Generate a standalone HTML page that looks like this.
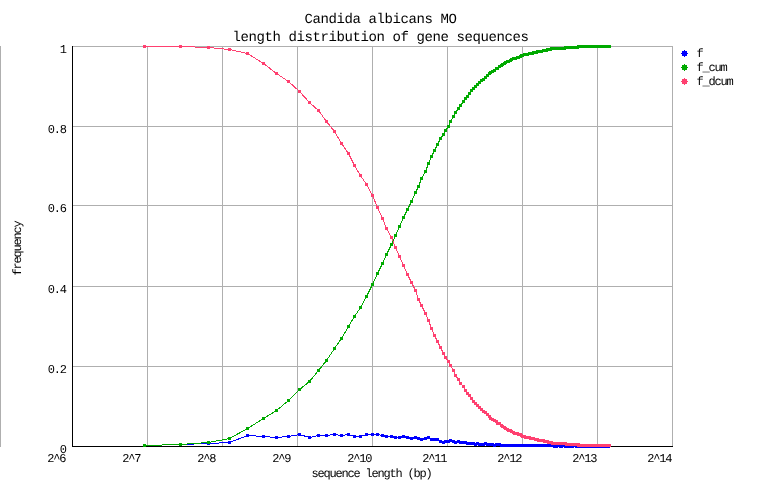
<!DOCTYPE html>
<html lang="en"><head><meta charset="utf-8"><title>Candida albicans MO - length distribution of gene sequences</title>
<style>html,body{margin:0;padding:0;background:#ffffff}body{width:762px;height:498px;overflow:hidden}svg{display:block}</style></head>
<body>
<svg width="762" height="498" viewBox="0 0 762 498">
<rect width="762" height="498" fill="#ffffff"/>
<g fill="#afafaf" shape-rendering="crispEdges"><rect x="0" y="46" width="1" height="401"/><rect x="147" y="46" width="1" height="400"/><rect x="222" y="46" width="1" height="400"/><rect x="297" y="46" width="1" height="400"/><rect x="372" y="46" width="1" height="400"/><rect x="447" y="46" width="1" height="400"/><rect x="522" y="46" width="1" height="400"/><rect x="597" y="46" width="1" height="400"/><rect x="672" y="46" width="1" height="400"/><rect x="72" y="46" width="601" height="1"/><rect x="72" y="126" width="601" height="1"/><rect x="72" y="205" width="601" height="1"/><rect x="72" y="286" width="601" height="1"/><rect x="72" y="366" width="601" height="1"/></g>
<g fill="#000000" shape-rendering="crispEdges"><rect x="72" y="46" width="1" height="401"/><rect x="72" y="446" width="601" height="1"/></g>
<g shape-rendering="crispEdges"><polyline fill="none" stroke="#0000ff" stroke-width="1" points="144.5,445.5 180.5,444.5 208.5,443.5 229.5,442.5 247.5,435.5 263.5,436.5 276.5,437.5 288.5,436.5 299.5,434.5 309.5,437.5 318.5,435.5 326.5,435.5 334.5,434.5 341.5,435.5 348.5,434.5 354.5,436.5 360.5,436.5 366.5,434.5 372.5,434.5 377.5,434.5 382.5,435.5 386.5,436.5 391.5,436.5 395.5,437.5 399.5,437.5 403.5,436.5 407.5,437.5 411.5,438.5 415.5,437.5 418.5,438.5 421.5,439.5 425.5,438.5 428.5,437.5 431.5,439.5 434.5,439.5 437.5,439.5 440.5,441.5 443.5,442.5 445.5,441.5 448.5,441.5 450.5,440.5 453.5,441.5 455.5,442.5 458.5,441.5 460.5,442.5 463.5,442.5 465.5,442.5 467.5,443.5 469.5,443.5 471.5,443.5 473.5,443.5 475.5,444.5 477.5,443.5 479.5,444.5 481.5,444.5 483.5,444.5 485.5,443.5 487.5,444.5 489.5,444.5 490.5,444.5 492.5,444.5 494.5,445.5 496.5,444.5 497.5,444.5 499.5,444.5 501.5,445.5 502.5,445.5 504.5,445.5 505.5,445.5 507.5,445.5 508.5,445.5 510.5,445.5 511.5,445.5 513.5,445.5 514.5,445.5 515.5,445.5 517.5,445.5 518.5,445.5 520.5,445.5 521.5,445.5 522.5,445.5 524.5,445.5 525.5,445.5 526.5,445.5 527.5,445.5 529.5,445.5 530.5,445.5 531.5,445.5 532.5,445.5 533.5,445.5 535.5,445.5 536.5,445.5 537.5,445.5 538.5,445.5 539.5,445.5 540.5,445.5 541.5,445.5 543.5,445.5 544.5,445.5 545.5,445.5 546.5,445.5 547.5,445.5 548.5,445.5 549.5,445.5 550.5,445.5 551.5,445.5 552.5,445.5 553.5,445.5 554.5,446.5 555.5,446.5 556.5,446.5 557.5,445.5 558.5,445.5 559.5,445.5 560.5,446.5 561.5,446.5 561.5,446.5 562.5,445.5 563.5,445.5 564.5,445.5 565.5,446.5 566.5,446.5 567.5,446.5 568.5,446.5 569.5,446.5 569.5,446.5 570.5,446.5 571.5,446.5 572.5,446.5 573.5,445.5 574.5,445.5 574.5,445.5 575.5,445.5 576.5,446.5 577.5,446.5 578.5,446.5 578.5,446.5 579.5,446.5 580.5,446.5 581.5,446.5 581.5,446.5 582.5,446.5 583.5,446.5 584.5,446.5 584.5,446.5 585.5,446.5 586.5,446.5 587.5,446.5 587.5,446.5 588.5,446.5 589.5,446.5 589.5,446.5 590.5,446.5 591.5,446.5 592.5,446.5 592.5,446.5 593.5,446.5 594.5,446.5 594.5,446.5 595.5,446.5 596.5,446.5 596.5,446.5 597.5,446.5 598.5,446.5 598.5,446.5 599.5,446.5 600.5,446.5 600.5,446.5 601.5,446.5 601.5,446.5 602.5,446.5 603.5,446.5 603.5,446.5 604.5,446.5 605.5,446.5 605.5,446.5 606.5,446.5 606.5,446.5 607.5,446.5 608.5,446.5 608.5,446.5"/><path fill="#0000ff" d="M143 444h3v3h-3zM179 443h3v3h-3zM207 442h3v3h-3zM228 441h3v3h-3zM246 434h3v3h-3zM262 435h3v3h-3zM275 436h3v3h-3zM287 435h3v3h-3zM298 433h3v3h-3zM308 436h3v3h-3zM317 434h3v3h-3zM325 434h3v3h-3zM333 433h3v3h-3zM340 434h3v3h-3zM347 433h3v3h-3zM353 435h3v3h-3zM359 435h3v3h-3zM365 433h3v3h-3zM371 433h3v3h-3zM376 433h3v3h-3zM381 434h3v3h-3zM385 435h3v3h-3zM390 435h3v3h-3zM394 436h3v3h-3zM398 436h3v3h-3zM402 435h3v3h-3zM406 436h3v3h-3zM410 437h3v3h-3zM414 436h3v3h-3zM417 437h3v3h-3zM420 438h3v3h-3zM424 437h3v3h-3zM427 436h3v3h-3zM430 438h3v3h-3zM433 438h3v3h-3zM436 438h3v3h-3zM439 440h3v3h-3zM442 441h3v3h-3zM444 440h3v3h-3zM447 440h3v3h-3zM449 439h3v3h-3zM452 440h3v3h-3zM454 441h3v3h-3zM457 440h3v3h-3zM459 441h3v3h-3zM462 441h3v3h-3zM464 441h3v3h-3zM466 442h3v3h-3zM468 442h3v3h-3zM470 442h3v3h-3zM472 442h3v3h-3zM474 443h3v3h-3zM476 442h3v3h-3zM478 443h3v3h-3zM480 443h3v3h-3zM482 443h3v3h-3zM484 442h3v3h-3zM486 443h3v3h-3zM488 443h3v3h-3zM489 443h3v3h-3zM491 443h3v3h-3zM493 444h3v3h-3zM495 443h3v3h-3zM496 443h3v3h-3zM498 443h3v3h-3zM500 444h3v3h-3zM501 444h3v3h-3zM503 444h3v3h-3zM504 444h3v3h-3zM506 444h3v3h-3zM507 444h3v3h-3zM509 444h3v3h-3zM510 444h3v3h-3zM512 444h3v3h-3zM513 444h3v3h-3zM514 444h3v3h-3zM516 444h3v3h-3zM517 444h3v3h-3zM519 444h3v3h-3zM520 444h3v3h-3zM521 444h3v3h-3zM523 444h3v3h-3zM524 444h3v3h-3zM525 444h3v3h-3zM526 444h3v3h-3zM528 444h3v3h-3zM529 444h3v3h-3zM530 444h3v3h-3zM531 444h3v3h-3zM532 444h3v3h-3zM534 444h3v3h-3zM535 444h3v3h-3zM536 444h3v3h-3zM537 444h3v3h-3zM538 444h3v3h-3zM539 444h3v3h-3zM540 444h3v3h-3zM542 444h3v3h-3zM543 444h3v3h-3zM544 444h3v3h-3zM545 444h3v3h-3zM546 444h3v3h-3zM547 444h3v3h-3zM548 444h3v3h-3zM549 444h3v3h-3zM550 444h3v3h-3zM551 444h3v3h-3zM552 444h3v3h-3zM553 445h3v3h-3zM554 445h3v3h-3zM555 445h3v3h-3zM556 444h3v3h-3zM557 444h3v3h-3zM558 444h3v3h-3zM559 445h3v3h-3zM560 445h3v3h-3zM561 444h3v3h-3zM562 444h3v3h-3zM563 444h3v3h-3zM564 445h3v3h-3zM565 445h3v3h-3zM566 445h3v3h-3zM567 445h3v3h-3zM568 445h3v3h-3zM569 445h3v3h-3zM570 445h3v3h-3zM571 445h3v3h-3zM572 444h3v3h-3zM573 444h3v3h-3zM574 444h3v3h-3zM575 445h3v3h-3zM576 445h3v3h-3zM577 445h3v3h-3zM578 445h3v3h-3zM579 445h3v3h-3zM580 445h3v3h-3zM581 445h3v3h-3zM582 445h3v3h-3zM583 445h3v3h-3zM584 445h3v3h-3zM585 445h3v3h-3zM586 445h3v3h-3zM587 445h3v3h-3zM588 445h3v3h-3zM589 445h3v3h-3zM590 445h3v3h-3zM591 445h3v3h-3zM592 445h3v3h-3zM593 445h3v3h-3zM594 445h3v3h-3zM595 445h3v3h-3zM596 445h3v3h-3zM597 445h3v3h-3zM598 445h3v3h-3zM599 445h3v3h-3zM600 445h3v3h-3zM601 445h3v3h-3zM602 445h3v3h-3zM603 445h3v3h-3zM604 445h3v3h-3zM605 445h3v3h-3zM606 445h3v3h-3zM607 445h3v3h-3z"/></g>
<g shape-rendering="crispEdges"><polyline fill="none" stroke="#00aa00" stroke-width="1" points="144.5,445.5 180.5,444.5 208.5,442.5 229.5,438.5 247.5,428.5 263.5,418.5 276.5,410.5 288.5,400.5 299.5,389.5 309.5,381.5 318.5,370.5 326.5,360.5 334.5,348.5 341.5,338.5 348.5,326.5 354.5,316.5 360.5,307.5 366.5,296.5 372.5,284.5 377.5,273.5 382.5,263.5 386.5,254.5 391.5,244.5 395.5,235.5 399.5,226.5 403.5,217.5 407.5,209.5 411.5,201.5 415.5,192.5 418.5,186.5 421.5,178.5 425.5,171.5 428.5,163.5 431.5,156.5 434.5,150.5 437.5,144.5 440.5,138.5 443.5,134.5 445.5,130.5 448.5,126.5 450.5,121.5 453.5,116.5 455.5,112.5 458.5,108.5 460.5,105.5 463.5,101.5 465.5,98.5 467.5,96.5 469.5,93.5 471.5,90.5 473.5,88.5 475.5,86.5 477.5,84.5 479.5,82.5 481.5,80.5 483.5,79.5 485.5,77.5 487.5,75.5 489.5,73.5 490.5,72.5 492.5,71.5 494.5,70.5 496.5,68.5 497.5,68.5 499.5,66.5 501.5,65.5 502.5,64.5 504.5,63.5 505.5,62.5 507.5,61.5 508.5,61.5 510.5,60.5 511.5,59.5 513.5,58.5 514.5,58.5 515.5,58.5 517.5,57.5 518.5,57.5 520.5,56.5 521.5,55.5 522.5,55.5 524.5,54.5 525.5,54.5 526.5,54.5 527.5,54.5 529.5,53.5 530.5,53.5 531.5,53.5 532.5,53.5 533.5,52.5 535.5,52.5 536.5,52.5 537.5,51.5 538.5,51.5 539.5,51.5 540.5,51.5 541.5,51.5 543.5,50.5 544.5,50.5 545.5,50.5 546.5,50.5 547.5,49.5 548.5,49.5 549.5,49.5 550.5,49.5 551.5,48.5 552.5,48.5 553.5,48.5 554.5,48.5 555.5,48.5 556.5,48.5 557.5,48.5 558.5,48.5 559.5,48.5 560.5,48.5 561.5,48.5 561.5,48.5 562.5,48.5 563.5,48.5 564.5,48.5 565.5,47.5 566.5,47.5 567.5,47.5 568.5,47.5 569.5,47.5 569.5,47.5 570.5,47.5 571.5,47.5 572.5,47.5 573.5,47.5 574.5,47.5 574.5,47.5 575.5,47.5 576.5,47.5 577.5,47.5 578.5,46.5 578.5,46.5 579.5,46.5 580.5,46.5 581.5,46.5 581.5,46.5 582.5,46.5 583.5,46.5 584.5,46.5 584.5,46.5 585.5,46.5 586.5,46.5 587.5,46.5 587.5,46.5 588.5,46.5 589.5,46.5 589.5,46.5 590.5,46.5 591.5,46.5 592.5,46.5 592.5,46.5 593.5,46.5 594.5,46.5 594.5,46.5 595.5,46.5 596.5,46.5 596.5,46.5 597.5,46.5 598.5,46.5 598.5,46.5 599.5,46.5 600.5,46.5 600.5,46.5 601.5,46.5 601.5,46.5 602.5,46.5 603.5,46.5 603.5,46.5 604.5,46.5 605.5,46.5 605.5,46.5 606.5,46.5 606.5,46.5 607.5,46.5 608.5,46.5 608.5,46.5 609.5,46.5"/><path fill="#00aa00" d="M143 444h3v3h-3zM179 443h3v3h-3zM207 441h3v3h-3zM228 437h3v3h-3zM246 427h3v3h-3zM262 417h3v3h-3zM275 409h3v3h-3zM287 399h3v3h-3zM298 388h3v3h-3zM308 380h3v3h-3zM317 369h3v3h-3zM325 359h3v3h-3zM333 347h3v3h-3zM340 337h3v3h-3zM347 325h3v3h-3zM353 315h3v3h-3zM359 306h3v3h-3zM365 295h3v3h-3zM371 283h3v3h-3zM376 272h3v3h-3zM381 262h3v3h-3zM385 253h3v3h-3zM390 243h3v3h-3zM394 234h3v3h-3zM398 225h3v3h-3zM402 216h3v3h-3zM406 208h3v3h-3zM410 200h3v3h-3zM414 191h3v3h-3zM417 185h3v3h-3zM420 177h3v3h-3zM424 170h3v3h-3zM427 162h3v3h-3zM430 155h3v3h-3zM433 149h3v3h-3zM436 143h3v3h-3zM439 137h3v3h-3zM442 133h3v3h-3zM444 129h3v3h-3zM447 125h3v3h-3zM449 120h3v3h-3zM452 115h3v3h-3zM454 111h3v3h-3zM457 107h3v3h-3zM459 104h3v3h-3zM462 100h3v3h-3zM464 97h3v3h-3zM466 95h3v3h-3zM468 92h3v3h-3zM470 89h3v3h-3zM472 87h3v3h-3zM474 85h3v3h-3zM476 83h3v3h-3zM478 81h3v3h-3zM480 79h3v3h-3zM482 78h3v3h-3zM484 76h3v3h-3zM486 74h3v3h-3zM488 72h3v3h-3zM489 71h3v3h-3zM491 70h3v3h-3zM493 69h3v3h-3zM495 67h3v3h-3zM496 67h3v3h-3zM498 65h3v3h-3zM500 64h3v3h-3zM501 63h3v3h-3zM503 62h3v3h-3zM504 61h3v3h-3zM506 60h3v3h-3zM507 60h3v3h-3zM509 59h3v3h-3zM510 58h3v3h-3zM512 57h3v3h-3zM513 57h3v3h-3zM514 57h3v3h-3zM516 56h3v3h-3zM517 56h3v3h-3zM519 55h3v3h-3zM520 54h3v3h-3zM521 54h3v3h-3zM523 53h3v3h-3zM524 53h3v3h-3zM525 53h3v3h-3zM526 53h3v3h-3zM528 52h3v3h-3zM529 52h3v3h-3zM530 52h3v3h-3zM531 52h3v3h-3zM532 51h3v3h-3zM534 51h3v3h-3zM535 51h3v3h-3zM536 50h3v3h-3zM537 50h3v3h-3zM538 50h3v3h-3zM539 50h3v3h-3zM540 50h3v3h-3zM542 49h3v3h-3zM543 49h3v3h-3zM544 49h3v3h-3zM545 49h3v3h-3zM546 48h3v3h-3zM547 48h3v3h-3zM548 48h3v3h-3zM549 48h3v3h-3zM550 47h3v3h-3zM551 47h3v3h-3zM552 47h3v3h-3zM553 47h3v3h-3zM554 47h3v3h-3zM555 47h3v3h-3zM556 47h3v3h-3zM557 47h3v3h-3zM558 47h3v3h-3zM559 47h3v3h-3zM560 47h3v3h-3zM561 47h3v3h-3zM562 47h3v3h-3zM563 47h3v3h-3zM564 46h3v3h-3zM565 46h3v3h-3zM566 46h3v3h-3zM567 46h3v3h-3zM568 46h3v3h-3zM569 46h3v3h-3zM570 46h3v3h-3zM571 46h3v3h-3zM572 46h3v3h-3zM573 46h3v3h-3zM574 46h3v3h-3zM575 46h3v3h-3zM576 46h3v3h-3zM577 45h3v3h-3zM578 45h3v3h-3zM579 45h3v3h-3zM580 45h3v3h-3zM581 45h3v3h-3zM582 45h3v3h-3zM583 45h3v3h-3zM584 45h3v3h-3zM585 45h3v3h-3zM586 45h3v3h-3zM587 45h3v3h-3zM588 45h3v3h-3zM589 45h3v3h-3zM590 45h3v3h-3zM591 45h3v3h-3zM592 45h3v3h-3zM593 45h3v3h-3zM594 45h3v3h-3zM595 45h3v3h-3zM596 45h3v3h-3zM597 45h3v3h-3zM598 45h3v3h-3zM599 45h3v3h-3zM600 45h3v3h-3zM601 45h3v3h-3zM602 45h3v3h-3zM603 45h3v3h-3zM604 45h3v3h-3zM605 45h3v3h-3zM606 45h3v3h-3zM607 45h3v3h-3zM608 45h3v3h-3z"/></g>
<g shape-rendering="crispEdges"><polyline fill="none" stroke="#ff4070" stroke-width="1" points="144.5,46.5 180.5,46.5 208.5,47.5 229.5,49.5 247.5,53.5 263.5,63.5 276.5,73.5 288.5,81.5 299.5,91.5 309.5,102.5 318.5,110.5 326.5,121.5 334.5,131.5 341.5,143.5 348.5,153.5 354.5,165.5 360.5,175.5 366.5,184.5 372.5,195.5 377.5,207.5 382.5,218.5 386.5,228.5 391.5,237.5 395.5,247.5 399.5,256.5 403.5,265.5 407.5,274.5 411.5,282.5 415.5,290.5 418.5,299.5 421.5,305.5 425.5,313.5 428.5,320.5 431.5,328.5 434.5,335.5 437.5,341.5 440.5,347.5 443.5,353.5 445.5,357.5 448.5,361.5 450.5,365.5 453.5,370.5 455.5,375.5 458.5,379.5 460.5,383.5 463.5,386.5 465.5,390.5 467.5,393.5 469.5,395.5 471.5,398.5 473.5,401.5 475.5,403.5 477.5,405.5 479.5,407.5 481.5,409.5 483.5,411.5 485.5,412.5 487.5,414.5 489.5,416.5 490.5,418.5 492.5,419.5 494.5,420.5 496.5,421.5 497.5,423.5 499.5,423.5 501.5,425.5 502.5,426.5 504.5,427.5 505.5,428.5 507.5,429.5 508.5,430.5 510.5,430.5 511.5,431.5 513.5,432.5 514.5,433.5 515.5,433.5 517.5,433.5 518.5,434.5 520.5,434.5 521.5,435.5 522.5,436.5 524.5,436.5 525.5,437.5 526.5,437.5 527.5,437.5 529.5,437.5 530.5,438.5 531.5,438.5 532.5,438.5 533.5,438.5 535.5,439.5 536.5,439.5 537.5,439.5 538.5,440.5 539.5,440.5 540.5,440.5 541.5,440.5 543.5,440.5 544.5,441.5 545.5,441.5 546.5,441.5 547.5,441.5 548.5,442.5 549.5,442.5 550.5,442.5 551.5,442.5 552.5,443.5 553.5,443.5 554.5,443.5 555.5,443.5 556.5,443.5 557.5,443.5 558.5,443.5 559.5,443.5 560.5,443.5 561.5,443.5 561.5,443.5 562.5,443.5 563.5,443.5 564.5,443.5 565.5,443.5 566.5,444.5 567.5,444.5 568.5,444.5 569.5,444.5 569.5,444.5 570.5,444.5 571.5,444.5 572.5,444.5 573.5,444.5 574.5,444.5 574.5,444.5 575.5,444.5 576.5,444.5 577.5,444.5 578.5,444.5 578.5,445.5 579.5,445.5 580.5,445.5 581.5,445.5 581.5,445.5 582.5,445.5 583.5,445.5 584.5,445.5 584.5,445.5 585.5,445.5 586.5,445.5 587.5,445.5 587.5,445.5 588.5,445.5 589.5,445.5 589.5,445.5 590.5,445.5 591.5,445.5 592.5,445.5 592.5,445.5 593.5,445.5 594.5,445.5 594.5,445.5 595.5,445.5 596.5,445.5 596.5,445.5 597.5,445.5 598.5,445.5 598.5,445.5 599.5,445.5 600.5,445.5 600.5,445.5 601.5,445.5 601.5,445.5 602.5,445.5 603.5,445.5 603.5,445.5 604.5,445.5 605.5,445.5 605.5,445.5 606.5,445.5 606.5,445.5 607.5,445.5 608.5,445.5 608.5,445.5 609.5,445.5"/><path fill="#ff4070" d="M143 45h3v3h-3zM179 45h3v3h-3zM207 46h3v3h-3zM228 48h3v3h-3zM246 52h3v3h-3zM262 62h3v3h-3zM275 72h3v3h-3zM287 80h3v3h-3zM298 90h3v3h-3zM308 101h3v3h-3zM317 109h3v3h-3zM325 120h3v3h-3zM333 130h3v3h-3zM340 142h3v3h-3zM347 152h3v3h-3zM353 164h3v3h-3zM359 174h3v3h-3zM365 183h3v3h-3zM371 194h3v3h-3zM376 206h3v3h-3zM381 217h3v3h-3zM385 227h3v3h-3zM390 236h3v3h-3zM394 246h3v3h-3zM398 255h3v3h-3zM402 264h3v3h-3zM406 273h3v3h-3zM410 281h3v3h-3zM414 289h3v3h-3zM417 298h3v3h-3zM420 304h3v3h-3zM424 312h3v3h-3zM427 319h3v3h-3zM430 327h3v3h-3zM433 334h3v3h-3zM436 340h3v3h-3zM439 346h3v3h-3zM442 352h3v3h-3zM444 356h3v3h-3zM447 360h3v3h-3zM449 364h3v3h-3zM452 369h3v3h-3zM454 374h3v3h-3zM457 378h3v3h-3zM459 382h3v3h-3zM462 385h3v3h-3zM464 389h3v3h-3zM466 392h3v3h-3zM468 394h3v3h-3zM470 397h3v3h-3zM472 400h3v3h-3zM474 402h3v3h-3zM476 404h3v3h-3zM478 406h3v3h-3zM480 408h3v3h-3zM482 410h3v3h-3zM484 411h3v3h-3zM486 413h3v3h-3zM488 415h3v3h-3zM489 417h3v3h-3zM491 418h3v3h-3zM493 419h3v3h-3zM495 420h3v3h-3zM496 422h3v3h-3zM498 422h3v3h-3zM500 424h3v3h-3zM501 425h3v3h-3zM503 426h3v3h-3zM504 427h3v3h-3zM506 428h3v3h-3zM507 429h3v3h-3zM509 429h3v3h-3zM510 430h3v3h-3zM512 431h3v3h-3zM513 432h3v3h-3zM514 432h3v3h-3zM516 432h3v3h-3zM517 433h3v3h-3zM519 433h3v3h-3zM520 434h3v3h-3zM521 435h3v3h-3zM523 435h3v3h-3zM524 436h3v3h-3zM525 436h3v3h-3zM526 436h3v3h-3zM528 436h3v3h-3zM529 437h3v3h-3zM530 437h3v3h-3zM531 437h3v3h-3zM532 437h3v3h-3zM534 438h3v3h-3zM535 438h3v3h-3zM536 438h3v3h-3zM537 439h3v3h-3zM538 439h3v3h-3zM539 439h3v3h-3zM540 439h3v3h-3zM542 439h3v3h-3zM543 440h3v3h-3zM544 440h3v3h-3zM545 440h3v3h-3zM546 440h3v3h-3zM547 441h3v3h-3zM548 441h3v3h-3zM549 441h3v3h-3zM550 441h3v3h-3zM551 442h3v3h-3zM552 442h3v3h-3zM553 442h3v3h-3zM554 442h3v3h-3zM555 442h3v3h-3zM556 442h3v3h-3zM557 442h3v3h-3zM558 442h3v3h-3zM559 442h3v3h-3zM560 442h3v3h-3zM561 442h3v3h-3zM562 442h3v3h-3zM563 442h3v3h-3zM564 442h3v3h-3zM565 443h3v3h-3zM566 443h3v3h-3zM567 443h3v3h-3zM568 443h3v3h-3zM569 443h3v3h-3zM570 443h3v3h-3zM571 443h3v3h-3zM572 443h3v3h-3zM573 443h3v3h-3zM574 443h3v3h-3zM575 443h3v3h-3zM576 443h3v3h-3zM577 443h3v3h-3zM577 444h3v3h-3zM578 444h3v3h-3zM579 444h3v3h-3zM580 444h3v3h-3zM581 444h3v3h-3zM582 444h3v3h-3zM583 444h3v3h-3zM584 444h3v3h-3zM585 444h3v3h-3zM586 444h3v3h-3zM587 444h3v3h-3zM588 444h3v3h-3zM589 444h3v3h-3zM590 444h3v3h-3zM591 444h3v3h-3zM592 444h3v3h-3zM593 444h3v3h-3zM594 444h3v3h-3zM595 444h3v3h-3zM596 444h3v3h-3zM597 444h3v3h-3zM598 444h3v3h-3zM599 444h3v3h-3zM600 444h3v3h-3zM601 444h3v3h-3zM602 444h3v3h-3zM603 444h3v3h-3zM604 444h3v3h-3zM605 444h3v3h-3zM606 444h3v3h-3zM607 444h3v3h-3zM608 444h3v3h-3z"/></g>
<g fill="#0000ff" shape-rendering="crispEdges"><rect x="684" y="50" width="1" height="1"/><rect x="682" y="51" width="5" height="1"/><rect x="682" y="52" width="5" height="1"/><rect x="681" y="53" width="7" height="1"/><rect x="682" y="54" width="5" height="1"/><rect x="682" y="55" width="5" height="1"/><rect x="684" y="56" width="1" height="1"/></g>
<g fill="#00aa00" shape-rendering="crispEdges"><rect x="684" y="64" width="1" height="1"/><rect x="682" y="65" width="5" height="1"/><rect x="682" y="66" width="5" height="1"/><rect x="681" y="67" width="7" height="1"/><rect x="682" y="68" width="5" height="1"/><rect x="682" y="69" width="5" height="1"/><rect x="684" y="70" width="1" height="1"/></g>
<g fill="#ff4070" shape-rendering="crispEdges"><rect x="684" y="78" width="1" height="1"/><rect x="682" y="79" width="5" height="1"/><rect x="682" y="80" width="5" height="1"/><rect x="681" y="81" width="7" height="1"/><rect x="682" y="82" width="5" height="1"/><rect x="682" y="83" width="5" height="1"/><rect x="684" y="84" width="1" height="1"/></g>
<g text-rendering="geometricPrecision" font-family="'Liberation Mono', 'DejaVu Sans Mono', monospace" fill="#000000" font-size="14" letter-spacing="-0.4" text-anchor="middle" xml:space="preserve">
<text x="380.6" y="23">Candida albicans MO</text>
<text x="380.6" y="41">length distribution of gene sequences</text>
</g>
<g text-rendering="geometricPrecision" font-family="'Liberation Mono', 'DejaVu Sans Mono', monospace" fill="#000000" font-size="12" letter-spacing="-1.2">
<text x="59.7" y="53">1</text>
<text x="47.7" y="133">0.8</text>
<text x="47.7" y="212">0.6</text>
<text x="47.7" y="293">0.4</text>
<text x="47.7" y="373">0.2</text>
<text x="59.7" y="453">0</text>
<text x="47.3" y="462">2^6</text>
<text x="122.3" y="462">2^7</text>
<text x="197.3" y="462">2^8</text>
<text x="272.3" y="462">2^9</text>
<text x="347.3" y="462">2^10</text>
<text x="422.3" y="462">2^11</text>
<text x="497.3" y="462">2^12</text>
<text x="572.3" y="462">2^13</text>
<text x="647.3" y="462">2^14</text>
<text x="311.5" y="477">sequence length (bp)</text>
<text transform="translate(21 275.5) rotate(-90)">frequency</text>
<text x="696.4" y="57">f</text><text x="696.4" y="71">f_cum</text><text x="696.4" y="85">f_dcum</text>
</g>
</svg>
</body></html>
